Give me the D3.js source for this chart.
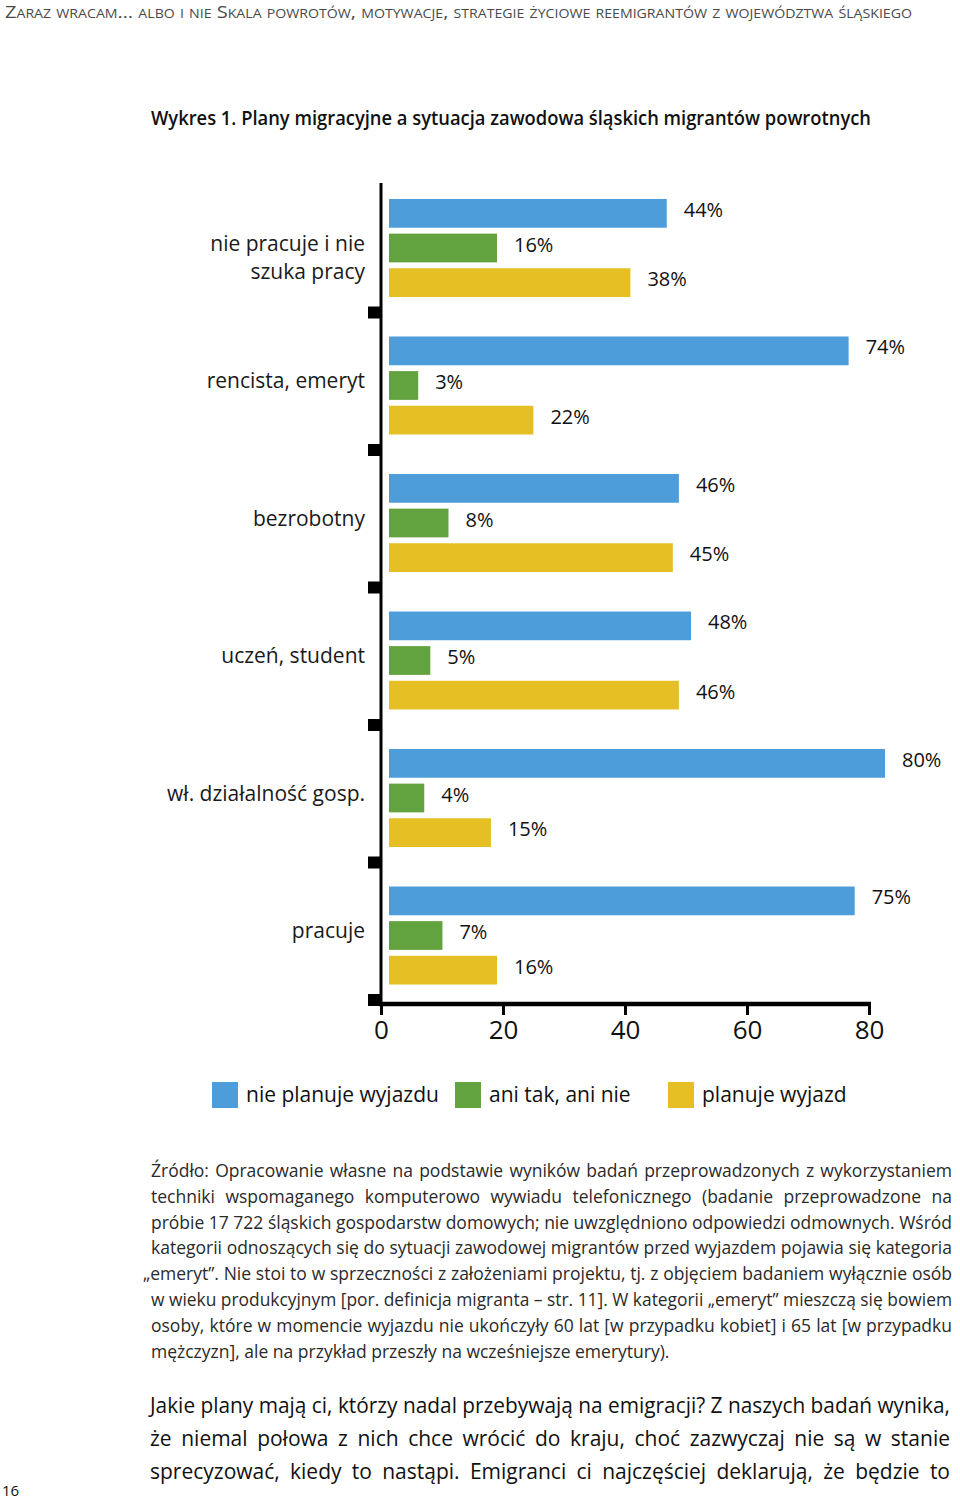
<!DOCTYPE html>
<html><head><meta charset="utf-8">
<script src="https://cdnjs.cloudflare.com/ajax/libs/d3/7.8.5/d3.min.js"></script>
<style>
html,body{margin:0;padding:0;background:#fff;}
svg{display:block;}
text{font-family:"Open Sans",sans-serif;}
</style></head><body>
<svg id="c" width="960" height="1499"></svg>
<script>
// ---------- data ----------
const categories = ["nie pracuje i nie szuka pracy","rencista, emeryt","bezrobotny","uczeń, student","wł. działalność gosp.","pracuje"];
const categoryLines = [["nie pracuje i nie","szuka pracy"],["rencista, emeryt"],["bezrobotny"],["uczeń, student"],["wł. działalność gosp."],["pracuje"]];
const seriesNames = ["nie planuje wyjazdu","ani tak, ani nie","planuje wyjazd"];
const niePlanuje = [44,74,46,48,80,75];
const aniTakAniNie = [16,3,8,5,4,7];
const planuje = [38,22,45,46,15,16];
const xTicks = [0,20,40,60,80];
const colors = ["#4d9ddb","#62a33f","#e5bf23"];

const headerText = "Zaraz wracam… albo i nie Skala powrotów, motywacje, strategie życiowe reemigrantów z województwa śląskiego";
const titleText = "Wykres 1. Plany migracyjne a sytuacja zawodowa śląskich migrantów powrotnych";
const sourceLines = [
 "Źródło: Opracowanie własne na podstawie wyników badań przeprowadzonych z wykorzystaniem",
 "techniki wspomaganego komputerowo wywiadu telefonicznego (badanie przeprowadzone na",
 "próbie 17 722 śląskich gospodarstw domowych; nie uwzględniono odpowiedzi odmownych. Wśród",
 "kategorii odnoszących się do sytuacji zawodowej migrantów przed wyjazdem pojawia się kategoria",
 "„emeryt”. Nie stoi to w sprzeczności z założeniami projektu, tj. z objęciem badaniem wyłącznie osób",
 "w wieku produkcyjnym [por. definicja migranta – str. 11]. W kategorii „emeryt” mieszczą się bowiem",
 "osoby, które w momencie wyjazdu nie ukończyły 60 lat [w przypadku kobiet] i 65 lat [w przypadku",
 "mężczyzn], ale na przykład przeszły na wcześniejsze emerytury)."
];
const bodyLines = [
 "Jakie plany mają ci, którzy nadal przebywają na emigracji? Z naszych badań wynika,",
 "że niemal połowa z nich chce wrócić do kraju, choć zazwyczaj nie są w stanie",
 "sprecyzować, kiedy to nastąpi. Emigranci ci najczęściej deklarują, że będzie to"
];
const pageNumber = "16";

// ---------- drawing ----------
const svg = d3.select("#c");
const seriesValues = [niePlanuje, aniTakAniNie, planuje];
const data = categories.map((c,i)=>({cat:c, lines:categoryLines[i], vals:seriesNames.map((s,j)=>({s, j, v:seriesValues[j][i]}))}));

// header (small caps)
svg.append("text").attr("x",5).attr("y",18)
  .style("font-family","'Open Sans'").style("font-variant","small-caps")
  .style("font-size","17px").style("fill","#4a4a4a")
  .attr("textLength",907).attr("lengthAdjust","spacingAndGlyphs")
  .text(headerText);

// title
svg.append("text").attr("x",151).attr("y",125)
  .style("font-family","'Open Sans'").style("font-weight","600")
  .style("font-size","19.5px").style("fill","#111")
  .attr("textLength",720).attr("lengthAdjust","spacingAndGlyphs")
  .text(titleText);

// scales
const x = d3.scaleLinear().domain([0,80]).range([381,869]);
const xBar = d3.scaleLinear().domain([0,80]).range([400,885]);
const barStart = 389;
const y = d3.scaleBand().domain(categories).range([179,1004]).paddingInner(0).paddingOuter(0);
const ySub = d3.scaleBand().domain(seriesNames).range([20,118]).paddingInner(0.17).paddingOuter(0);

const g = svg.append("g");
const groups = g.selectAll(".grp").data(data).join("g").attr("class","grp")
  .attr("transform",d=>`translate(0,${y(d.cat)})`);
groups.selectAll("rect").data(d=>d.vals).join("rect")
  .attr("x",barStart).attr("y",d=>ySub(d.s))
  .attr("width",d=>xBar(d.v)-barStart).attr("height",ySub.bandwidth())
  .attr("fill",d=>colors[d.j]);
groups.selectAll("text.val").data(d=>d.vals).join("text").attr("class","val")
  .attr("x",d=>xBar(d.v)+17).attr("y",d=>ySub(d.s)+ySub.bandwidth()/2-3.5)
  .attr("dy","0.35em")
  .style("font-size","20px").style("fill","#111")
  .text(d=>d.v+"%");

// category labels
groups.each(function(d){
  const lh = 28;
  const t = d3.select(this).append("text").attr("text-anchor","end")
    .style("font-size","21px").style("fill","#1a1a1a");
  d.lines.forEach((ln,k)=>{
    t.append("tspan").attr("x",365)
     .attr("y", y.bandwidth()/2 - 4.5 + k*lh).attr("dy","0.35em").text(ln);
  });
});

// y axis line
g.append("line").attr("x1",381).attr("x2",381).attr("y1",183).attr("y2",1004)
  .attr("stroke","#000").attr("stroke-width",3);
// y tick squares at band boundaries
const boundaries = categories.map(c=>y(c)+y.bandwidth());
g.selectAll("rect.ytick").data(boundaries).join("rect").attr("class","ytick")
  .attr("x",368).attr("y",b=>b-10).attr("width",13).attr("height",12).attr("fill","#000");

// x axis
const xAxis = d3.axisBottom(x).tickValues(xTicks).tickSize(11).tickPadding(6).tickFormat(d3.format("d"));
const ax = g.append("g").attr("transform","translate(0,1004)").call(xAxis);
ax.select(".domain").remove();
ax.selectAll(".tick line").attr("stroke","#000").attr("stroke-width",3);
ax.selectAll(".tick text").style("font-family","'Open Sans'").style("font-size","26px").style("fill","#111");
ax.append("line").attr("x1",379).attr("x2",871).attr("y1",0).attr("y2",0).attr("stroke","#000").attr("stroke-width",4.5);

// legend
const legendX = [212,455,668];
const lg = svg.append("g").attr("transform","translate(0,1082)");
const li = lg.selectAll("g").data(seriesNames).join("g").attr("transform",(d,i)=>`translate(${legendX[i]},0)`);
li.append("rect").attr("width",26).attr("height",26).attr("fill",(d,i)=>colors[i]);
li.append("text").attr("x",34).attr("y",13).attr("dy","0.35em")
  .style("font-size","21px").style("fill","#111").text(d=>d);

// justified text helper
function justified(lines, opts){
  const {x0, x1, y0, lh, size, color, lastJustify, offsets} = opts;
  lines.forEach((ln,i)=>{
    const xs = x0 + ((offsets && offsets[i])||0);
    const t = svg.append("text").attr("x",xs).attr("y",y0+i*lh)
      .style("font-size",size+"px").style("fill",color).text(ln);
    const w = t.node().getComputedTextLength();
    const target = x1 - xs;
    const last = i===lines.length-1 && !lastJustify;
    if (w > target) {
      t.attr("textLength",target).attr("lengthAdjust","spacingAndGlyphs");
    } else if (!last) {
      const spaces = (ln.match(/ /g)||[]).length;
      if (spaces>0) t.style("word-spacing",((target-w)/spaces)+"px");
    }
  });
}
justified(sourceLines,{x0:151,x1:952,y0:1177,lh:25.8,size:17.5,color:"#2a2a2a",lastJustify:false,offsets:[0,0,0,0,-8,0,0,0]});
justified(bodyLines,{x0:150,x1:950,y0:1413,lh:33,size:21,color:"#111",lastJustify:true});

svg.append("text").attr("x",2).attr("y",1496).style("font-size","15px").style("fill","#111").text(pageNumber);
</script>
</body></html>
